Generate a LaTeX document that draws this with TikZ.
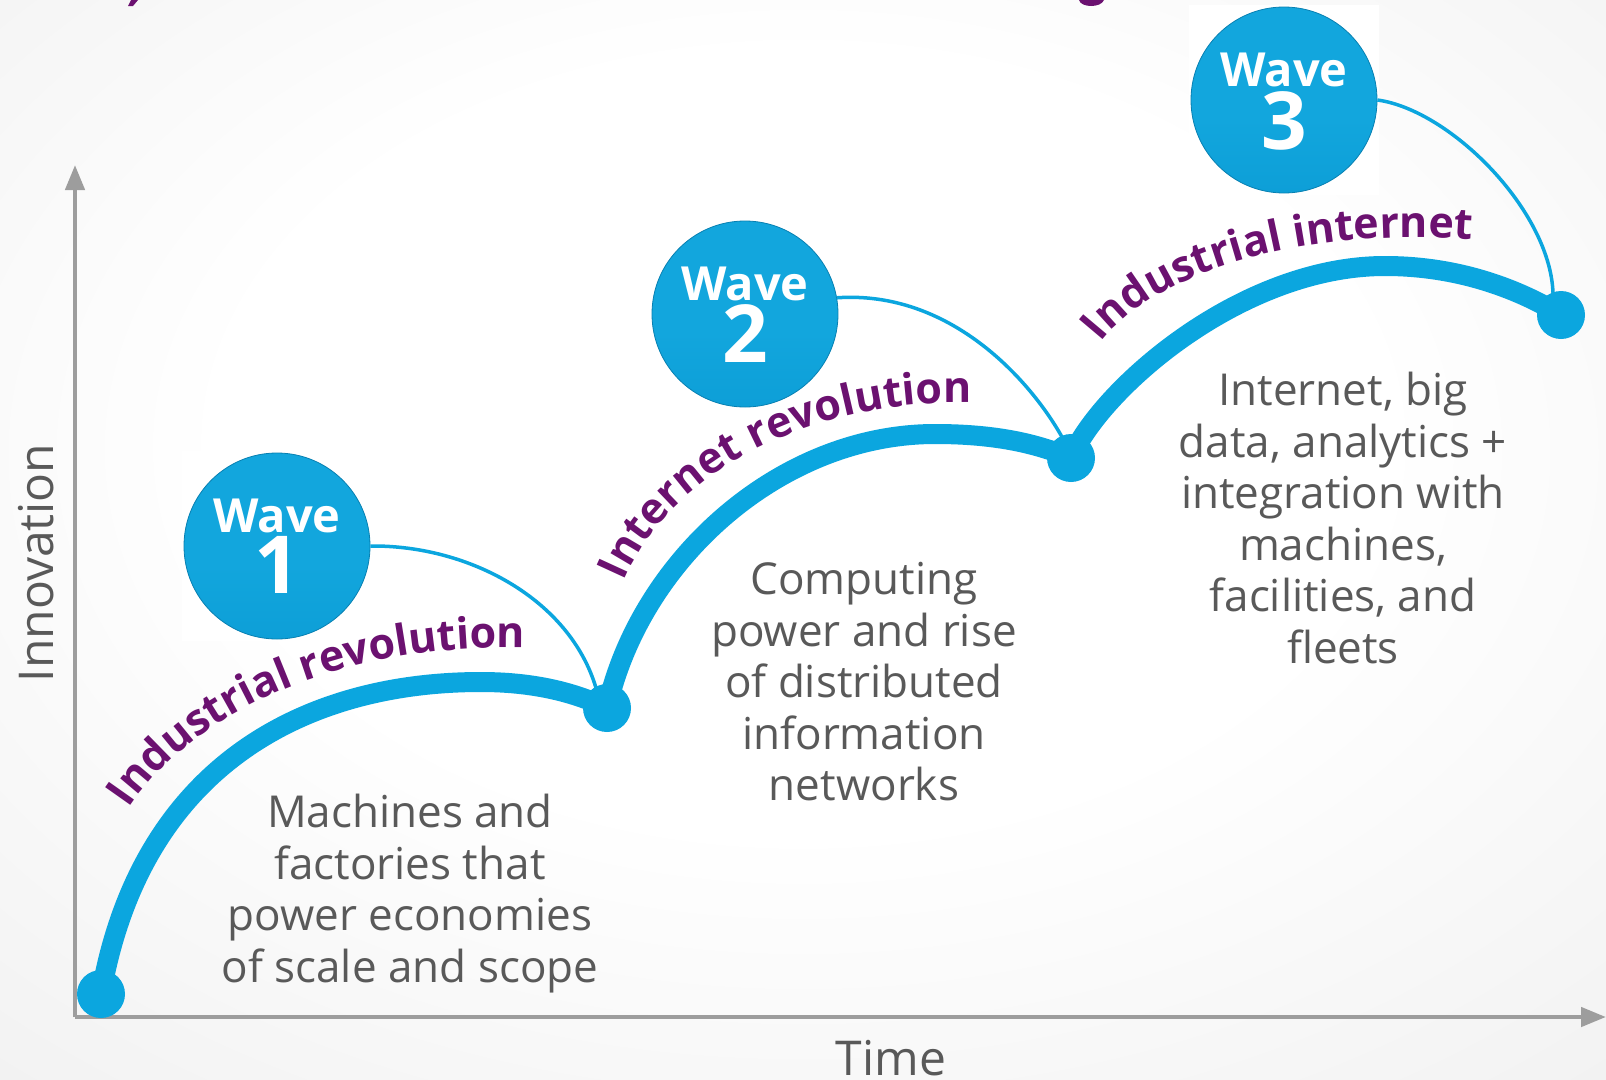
\documentclass[tikz,border=0pt]{standalone}
\usepackage{fontspec}
\setmainfont{Open Sans}
\usetikzlibrary{arrows.meta,decorations.text}
\definecolor{bgmid}{HTML}{EFEFEF}
\definecolor{bgedge}{HTML}{E2E2E2}
\definecolor{lineblue}{HTML}{0BA6DF}
\definecolor{lblpurple}{HTML}{6B1170}
\definecolor{txtgray}{HTML}{595959}
\definecolor{axisgray}{HTML}{9D9D9D}
\definecolor{wcyan}{HTML}{5CE6FF}
\definecolor{wblue}{HTML}{12A6DD}
\definecolor{wdeep}{HTML}{0897D1}
\definecolor{wrim}{HTML}{2FB8E8}
\pgfdeclareradialshading{bgsh}{\pgfpoint{0bp}{6bp}}{color(0bp)=(white); color(18bp)=(white); color(42bp)=(bgmid); color(72bp)=(bgedge)}
\pgfdeclareverticalshading{wavesh}{100bp}{color(0bp)=(wrim); color(4bp)=(wdeep); color(45bp)=(wblue); color(88bp)=(wblue); color(97bp)=(wcyan); color(100bp)=(wcyan)}
\newcommand\lblfont{\fontsize{43}{43}\selectfont\bfseries}
\begin{document}
\begin{tikzpicture}[x=1pt,y=-1pt,
 axisline/.style={draw=axisgray, line width=4.5pt, -{Triangle[length=25pt,width=19pt]}},
 waveline/.style={draw=lineblue, line width=20pt},
 linkline/.style={draw=lineblue, line width=3.5pt},
 dot/.style={circle, fill=lineblue, minimum size=48pt, inner sep=0pt},
 wavebg/.style={rectangle, fill=white, minimum size=190pt, inner sep=0pt},
 waveball/.style={circle, shading=wavesh, minimum size=186pt, inner sep=0pt, draw=wdeep!85!black, line width=0.8pt},
 wavew/.style={text=white, font=\fontsize{47}{47}\selectfont\bfseries, anchor=base, inner sep=0pt},
 waven/.style={text=white, font=\fontsize{80}{80}\selectfont\bfseries, anchor=base, inner sep=0pt},
 desc/.style={text=txtgray, font=\fontsize{44}{51.5}\selectfont, align=center, anchor=north, inner sep=0pt},
 axlabel/.style={text=txtgray, font=\fontsize{48}{48}\selectfont, anchor=base, inner sep=0pt},
 arclabel/.style={decorate, decoration={text along path, text align=center, text color=lblpurple}}]
% canvas and background
\useasboundingbox (0,0) rectangle (1606,1079);
\path[shading=bgsh] (0,0) rectangle (1606,1079);
\clip (0,0) rectangle (1606,1079);
% cut-off title fragments
\fill[lblpurple] (131,0) -- (138,0) -- (133,6) -- (128,6) -- cycle;
\fill[lblpurple] (1079,0) .. controls (1081,8) and (1101,8) .. (1104,0) -- cycle;
% axes
\coordinate (origin) at (75,1017);
\coordinate (ytip) at (75,165);
\coordinate (xtip) at (1606,1017);
\draw[axisline] (origin) -- (ytip);
\draw[axisline] (origin) -- (xtip);
\node[axlabel, rotate=90] (ylab) at (53,563) {Innovation};
\node[axlabel] (xlab) at (891,1075) {Time};
% dots
\node[dot] (d0) at (101,994) {};
\node[dot] (d1) at (607,708) {};
\node[dot] (d2) at (1071,458) {};
\node[dot] (d3) at (1561,315) {};
% thick wave curves
\draw[waveline] (d0.center) .. controls (140,770) and (300,682) .. (481,682)
  .. controls (540,682) and (580,695) .. (d1.center);
\draw[waveline] (d1.center) .. controls (640,560) and (780,434) .. (935,434)
  .. controls (1000,434) and (1040,445) .. (d2.center);
\draw[waveline] (d2.center) .. controls (1100,390) and (1240,266) .. (1385,266)
  .. controls (1460,266) and (1520,290) .. (d3.center);
% wave badges
\node[wavebg] (s1) at (277,546) {};
\node[wavebg] (s2) at (745,314) {};
\node[wavebg] (s3) at (1284,100) {};
\node[waveball] (w1) at (277,546) {};
\node[waveball] (w2) at (745,314) {};
\node[waveball] (w3) at (1284,100) {};
\node[wavew] (w1a) at (277,532) {Wave};
\node[waven] (w1b) at (277,593) {1};
\node[wavew] (w2a) at (745,300) {Wave};
\node[waven] (w2b) at (745,362) {2};
\node[wavew] (w3a) at (1284,86) {Wave};
\node[waven] (w3b) at (1284,149) {3};
% thin links from badges to dots
\coordinate (e1) at (596,688);
\coordinate (e2) at (1062,437);
\coordinate (e3) at (1553,293);
\draw[linkline] (w1.east) .. controls (470,545) and (570,600) .. (e1);
\draw[linkline] (w2.10) .. controls (950,290) and (1030,380) .. (e2);
\draw[linkline] (w3.east) .. controls (1450,110) and (1550,210) .. (e3);
% curved labels (baselines, extended equally at both ends)
\coordinate (l1s) at (106,844); \coordinate (l1e) at (567,649);
\coordinate (l2s) at (609,615); \coordinate (l2e) at (1008,404);
\coordinate (l3s) at (1079,369); \coordinate (l3e) at (1506,242);
\path[arclabel, decoration={text={|\lblfont|Industrial revolution}}]
  (l1s) -- (128,810) .. controls (190,715) and (335,643) .. (527,648) -- (l1e);
\path[arclabel, decoration={text={|\lblfont|Internet revolution}}]
  (l2s) -- (625,578) .. controls (668,480) and (800,400) .. (968,403) -- (l2e);
\path[arclabel, decoration={text={|\lblfont|Industrial internet}}]
  (l3s) -- (1105,338) .. controls (1160,272) and (1300,228) .. (1466,239) -- (l3e);
% descriptions
\node[desc] (t1) at (410,794) {Machines and\\factories that\\power economies\\of scale and scope};
\node[desc] (t2) at (864,562) {Computing\\power and rise\\of distributed\\information\\networks};
\node[desc] (t3) at (1343,372) {Internet, big\\data, analytics +\\integration with\\machines,\\facilities, and\\fleets};
\end{tikzpicture}
\end{document}
